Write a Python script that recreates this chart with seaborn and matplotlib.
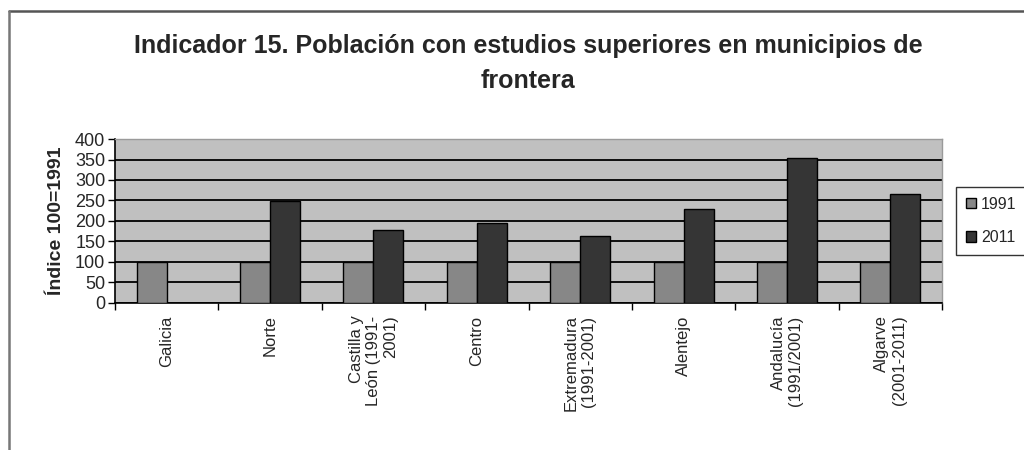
import matplotlib
matplotlib.use("Agg")
import matplotlib.pyplot as plt
import seaborn as sns
import pandas as pd
import numpy as np
from matplotlib.lines import Line2D
from matplotlib.ticker import MultipleLocator, FixedLocator

# --- data ---
regions = [
    "Galicia",
    "Norte",
    "Castilla y\nLeón (1991-\n2001)",
    "Centro",
    "Extremadura\n(1991-2001)",
    "Alentejo",
    "Andalucía\n(1991/2001)",
    "Algarve\n(2001-2011)",
]
values_1991 = [100, 100, 100, 100, 100, 100, 100, 100]
values_2011 = [np.nan, 248, 178, 194, 163, 229, 353, 265]
years = ["1991", "2011"]
colors = ["#878787", "#353535"]

df = pd.DataFrame({
    "region": regions * 2,
    "year": [years[0]] * len(regions) + [years[1]] * len(regions),
    "value": values_1991 + values_2011,
})

sns.set_theme(style="white")
plt.rcParams["font.family"] = ["Liberation Sans", "DejaVu Sans"]

fig = plt.figure(figsize=(10.24, 4.5), dpi=100)
ax = fig.add_axes([0.1123, 0.3267, 0.8077, 0.3644])
ax.set_facecolor("#c0c0c0")

sns.barplot(data=df, x="region", y="value", hue="year", order=regions,
            hue_order=years, palette=colors, width=0.58, edgecolor="black",
            linewidth=1.0, saturation=1, ax=ax, zorder=3)

ax.set_ylim(0, 400)
ax.set_xlim(-0.5, len(regions) - 0.5)
ax.yaxis.set_major_locator(MultipleLocator(50))
ax.grid(axis="y", color="black", linewidth=1.3, zorder=0)
ax.set_axisbelow(True)

# category ticks between groups, like the original
ax.xaxis.set_minor_locator(FixedLocator(np.arange(-0.5, len(regions), 1.0)))
ax.tick_params(axis="x", which="major", length=0, pad=9)
ax.tick_params(axis="x", which="minor", direction="out", length=5, width=1, color="black", bottom=True)
ax.tick_params(axis="y", direction="out", length=5, width=1, color="black", left=True,
               labelsize=13, pad=2)

for lbl in ax.get_xticklabels():
    lbl.set_rotation(90)
    lbl.set_ha("center")
    lbl.set_va("top")
    lbl.set_multialignment("right")
    lbl.set_fontsize(12)

for side in ["left", "bottom"]:
    ax.spines[side].set_color("black")
    ax.spines[side].set_linewidth(1.2)
for side in ["top", "right"]:
    ax.spines[side].set_color("#9a9a9a")
    ax.spines[side].set_linewidth(1.0)

ax.set_xlabel("")
ax.set_ylabel("Índice 100=1991", fontsize=14, fontweight="bold", labelpad=7)

fig.suptitle("Indicador 15. Población con estudios superiores en municipios de\nfrontera",
             x=0.516, y=0.925, fontsize=18, fontweight="bold", linespacing=1.6)

leg = ax.legend(loc="center left", bbox_to_anchor=(0.934, 0.509), bbox_transform=fig.transFigure,
                frameon=True, fontsize=11.5, handlelength=0.65, handleheight=0.65,
                handletextpad=0.3, labelspacing=1.15, borderpad=0.6, borderaxespad=0,
                fancybox=False)
leg.get_frame().set_edgecolor("black")
leg.get_frame().set_linewidth(1.0)

# outer chart frame (top and left edges visible in the reference)
fig.add_artist(Line2D([0.009, 1.0], [0.975, 0.975], transform=fig.transFigure,
                      color="#555555", linewidth=1.8))
fig.add_artist(Line2D([0.009, 0.009], [0.0, 0.975], transform=fig.transFigure,
                      color="#777777", linewidth=1.8))

fig.savefig("out.png", dpi=100, facecolor="white")
